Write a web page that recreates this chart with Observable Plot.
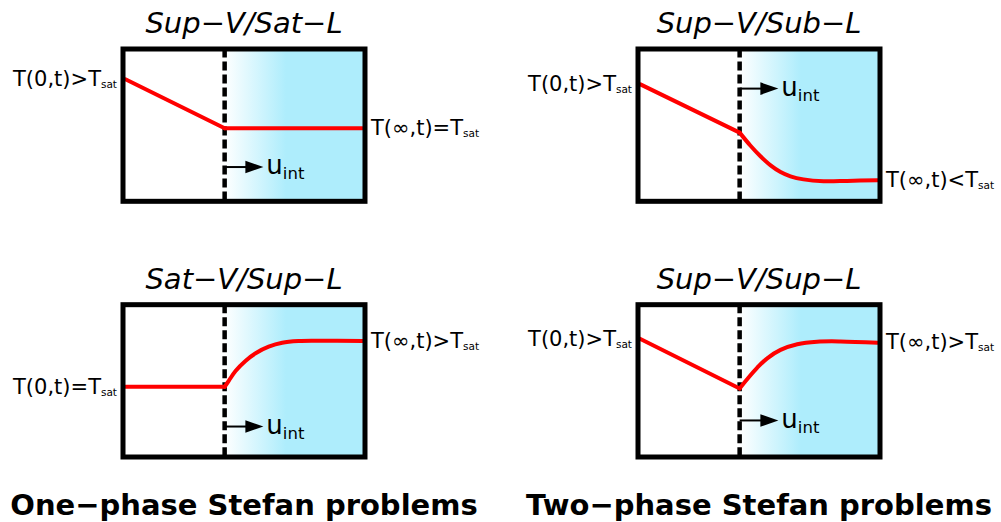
<!DOCTYPE html>
<html>
<head>
<meta charset="utf-8">
<script src="https://cdn.jsdelivr.net/npm/d3@7"></script>
<script src="https://cdn.jsdelivr.net/npm/@observablehq/plot@0.6"></script>
<style>
  body { margin: 0; background: #fff; }
</style>
</head>
<body>
<div id="chart"></div>
<script>
// ---- Data (position across the domain 0–100, temperature 0–100) ----
const panelTitles = ["Sup−V/Sat−L", "Sup−V/Sub−L", "Sat−V/Sup−L", "Sup−V/Sup−L"];
const panelPhase  = ["One−phase", "Two−phase", "One−phase", "Two−phase"];
const panelRow    = ["upper", "upper", "lower", "lower"];
const phaseNames    = ["One−phase", "Two−phase"];
const phaseCaptions = ["One−phase Stefan problems", "Two−phase Stefan problems"];
const interfacePos = [42, 42, 42, 42];
const leftLabels  = ["T(0,t)>T_sat", "T(0,t)>T_sat", "T(0,t)=T_sat", "T(0,t)>T_sat"];
const rightLabels = ["T(∞,t)=T_sat", "T(∞,t)<T_sat", "T(∞,t)>T_sat", "T(∞,t)>T_sat"];
const velocityLabel = "u_int";
const arrowLevel  = [22.5, 74, 20, 24];
const arrowLength = 16;

// vapour side (linear) temperature profiles: [position, T]
const vaporProfiles = [
  [[1, 80.1], [42, 48.0]],
  [[1, 76.8], [42, 45.1]],
  [[1, 46.1], [42, 46.1]],
  [[1, 77.5], [42, 45.0]]
];
// liquid side temperature profiles: [position, T]
const liquidProfiles = [
  [[42, 48.0], [99, 48.0]],
  [[42, 45.1], [46.5, 36.5], [50.6, 29.6], [54.8, 23.6], [58.9, 19.2], [63.0, 16.4],
   [68.4, 14.4], [76.7, 13.2], [86.4, 13.4], [99, 13.9]],
  [[42, 46.1], [43.7, 50.0], [46.5, 56.5], [50.6, 63.1], [54.8, 68.1], [60.2, 72.4],
   [65.8, 75.0], [72.6, 76.1], [79.5, 76.3], [99, 76.1]],
  [[42, 45.0], [45.1, 51.1], [49.3, 58.7], [53.4, 64.8], [58.9, 70.3], [65.8, 74.0],
   [74.0, 75.7], [83.7, 75.9], [99, 75.0]]
];

// ---- Tables built from the arrays ----
const panels = panelTitles.map((title, i) => ({
  title, phase: panelPhase[i], row: panelRow[i], xi: interfacePos[i],
  left: leftLabels[i], right: rightLabels[i], arrow: arrowLevel[i],
  T0: vaporProfiles[i][0][1], Tinf: liquidProfiles[i][liquidProfiles[i].length - 1][1]
}));
const vapor = [], liquid = [];
panelTitles.forEach((t, i) => {
  vaporProfiles[i].forEach(([x, T]) => vapor.push({x, T, phase: panelPhase[i], row: panelRow[i], seg: "v" + i}));
  liquidProfiles[i].forEach(([x, T]) => liquid.push({x, T, phase: panelPhase[i], row: panelRow[i], seg: "l" + i}));
});
const captions = phaseNames.map((p, i) => ({phase: p, row: "lower", text: phaseCaptions[i]}));

const arrowHead = {
  draw(context, size) {
    const r = Math.sqrt(size / Math.PI);
    context.moveTo(0, 0);
    context.lineTo(-2 * r, -0.7 * r);
    context.lineTo(-2 * r, 0.7 * r);
    context.closePath();
  }
};

const font = "DejaVu Sans";
const svg = Plot.plot({
  width: 1001,
  height: 522,
  marginLeft: 122.5,
  marginRight: 121.5,
  marginTop: 48.5,
  marginBottom: 65.5,
  style: {fontFamily: font, background: "white", color: "black"},
  x: {domain: [0, 100], axis: null},
  y: {domain: [0, 100], axis: null},
  fx: {domain: phaseNames, paddingInner: 0.5301, paddingOuter: 0, round: false, axis: null},
  fy: {domain: ["upper", "lower"], paddingInner: 0.4043, paddingOuter: 0, round: false, axis: null},
  marks: [
    Plot.rect(panels, {x1: "xi", x2: 100, y1: 0, y2: 100, fx: "phase", fy: "row", fill: "url(#liquidGradient)"}),
    Plot.ruleX(panels, {x: "xi", fx: "phase", fy: "row", stroke: "black", strokeWidth: 4.5, strokeDasharray: "9,4"}),
    Plot.line(vapor, {x: "x", y: "T", z: "seg", fx: "phase", fy: "row", stroke: "#ff0000", strokeWidth: 4, strokeLinejoin: "round"}),
    Plot.line(liquid, {x: "x", y: "T", z: "seg", fx: "phase", fy: "row", stroke: "#ff0000", strokeWidth: 4, curve: "catmull-rom", strokeLinejoin: "round"}),
    Plot.link(panels, {x1: "xi", x2: d => d.xi + arrowLength - 4, y1: "arrow", y2: "arrow", fx: "phase", fy: "row", stroke: "black", strokeWidth: 2}),
    Plot.dot(panels, {x: d => d.xi + arrowLength, y: "arrow", fx: "phase", fy: "row", symbol: arrowHead, r: 9, fill: "black", stroke: "none"}),
    Plot.text(panels, {x: d => d.xi + arrowLength, y: "arrow", fx: "phase", fy: "row", text: () => velocityLabel, textAnchor: "start", dx: 3, dy: -1, fontSize: 26, fontFamily: font, fill: "black"}),
    Plot.text(panels, {x: 0, y: "T0", fx: "phase", fy: "row", text: "left", textAnchor: "end", dx: -6, fontSize: 21, fontFamily: font, fill: "black"}),
    Plot.text(panels, {x: 100, y: "Tinf", fx: "phase", fy: "row", text: "right", textAnchor: "start", dx: 6, fontSize: 21, fontFamily: font, fill: "black"}),
    Plot.text(panels, {fx: "phase", fy: "row", text: "title", frameAnchor: "top", lineAnchor: "bottom", dy: -16, fontSize: 29, fontStyle: "italic", fontFamily: font, fill: "black"}),
    Plot.text(captions, {fx: "phase", fy: "row", text: "text", frameAnchor: "bottom", lineAnchor: "bottom", dy: 57.5, fontSize: 29, fontWeight: "bold", fontFamily: font, fill: "black"}),
    Plot.frame({stroke: "black", strokeWidth: 5})
  ]
});

// gradient for the liquid region
const ns = "http://www.w3.org/2000/svg";
const defs = document.createElementNS(ns, "defs");
const grad = document.createElementNS(ns, "linearGradient");
grad.setAttribute("id", "liquidGradient");
grad.setAttribute("x1", "0"); grad.setAttribute("x2", "1");
grad.setAttribute("y1", "0"); grad.setAttribute("y2", "0");
[["0", "#ffffff"], ["0.44", "#aeedfc"], ["1", "#aeedfc"]].forEach(([o, c]) => {
  const s = document.createElementNS(ns, "stop");
  s.setAttribute("offset", o); s.setAttribute("stop-color", c);
  grad.appendChild(s);
});
defs.appendChild(grad);
svg.insertBefore(defs, svg.firstChild);

// subscripts
const subStyle = {sat: {size: 10.5, dy: 2}, int: {size: 16.5, dy: 5}};
svg.querySelectorAll("text").forEach(t => {
  const s = t.textContent;
  const k = s.indexOf("_");
  if (k < 0) return;
  const main = s.slice(0, k), sub = s.slice(k + 1);
  const st = subStyle[sub] || {size: 11, dy: 3};
  t.textContent = main;
  const ts = document.createElementNS(ns, "tspan");
  ts.setAttribute("font-size", st.size);
  ts.setAttribute("dy", st.dy);
  ts.textContent = sub;
  t.appendChild(ts);
});

document.getElementById("chart").appendChild(svg);
</script>
</body>
</html>
